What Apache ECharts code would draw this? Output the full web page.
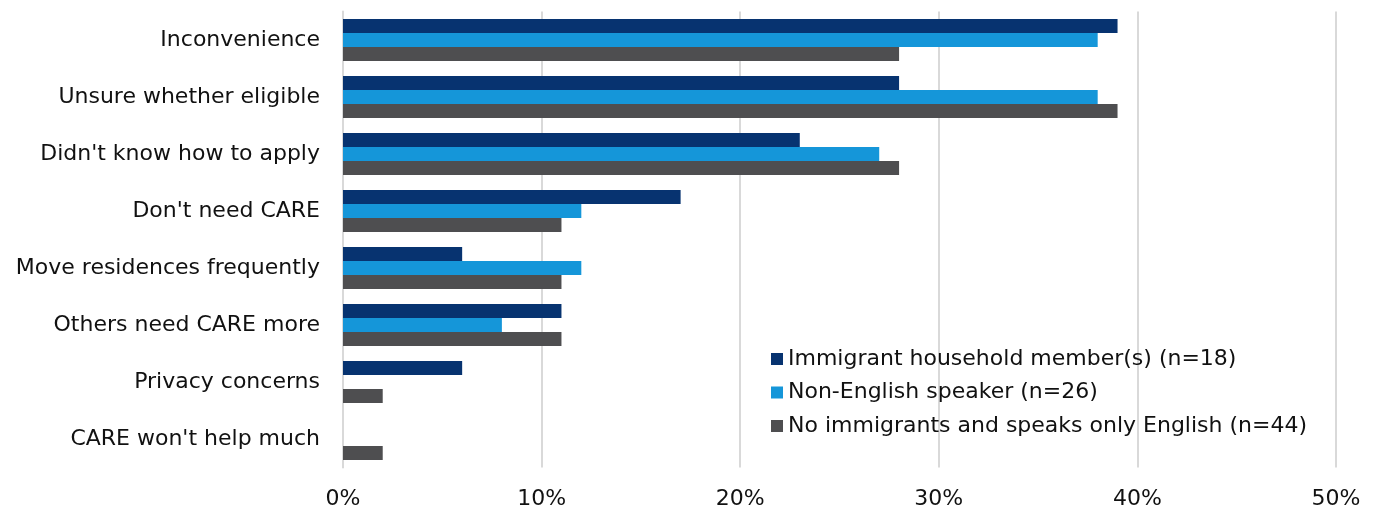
<!DOCTYPE html>
<html>
<head>
<meta charset="utf-8">
<script src="https://cdn.jsdelivr.net/npm/echarts@6/dist/echarts.min.js"></script>
<style>
  html, body { margin: 0; padding: 0; background: #fff; }
  #chart { width: 1378px; height: 512px; }
</style>
</head>
<body>
<div id="chart"></div>
<script>
// Reasons for not enrolling in CARE, by household group (percent)
const categories = [
  'Inconvenience',
  'Unsure whether eligible',
  "Didn't know how to apply",
  "Don't need CARE",
  'Move residences frequently',
  'Others need CARE more',
  'Privacy concerns',
  "CARE won't help much"
];
const immigrantHousehold = [39, 28, 23, 17, 6, 11, 6, 0];
const nonEnglishSpeaker  = [38, 38, 27, 12, 12, 8, 0, 0];
const englishOnly        = [28, 39, 28, 11, 11, 11, 2, 2];
const seriesNames = [
  'Immigrant household member(s) (n=18)',
  'Non-English speaker (n=26)',
  'No immigrants and speaks only English (n=44)'
];
const xTicks = [0, 10, 20, 30, 40, 50];

const FONT = 'DejaVu Sans';
const colors = ['#073370', '#1596d9', '#4e4e50'];

const chart = echarts.init(document.getElementById('chart'), null, { renderer: 'canvas' });

chart.setOption({
  animation: false,
  textStyle: { fontFamily: FONT },
  grid: { left: 343, right: 42, top: 11.5, bottom: 44.5, containLabel: false },
  legend: {
    orient: 'vertical',
    left: 766,
    top: 343,
    itemWidth: 12,
    itemHeight: 12,
    itemGap: 11.5,
    icon: 'rect',
    textStyle: { fontFamily: FONT, fontSize: 22, color: '#111' },
    data: seriesNames
  },
  xAxis: {
    type: 'value',
    min: xTicks[0],
    max: xTicks[xTicks.length - 1],
    interval: 10,
    axisLine: { show: false },
    axisTick: { show: false },
    splitLine: { lineStyle: { color: '#d9d9d9', width: 2 } },
    axisLabel: {
      fontFamily: FONT, fontSize: 22, color: '#111', margin: 21,
      formatter: v => v + '%'
    }
  },
  yAxis: {
    type: 'category',
    data: categories,
    inverse: true,
    axisLine: { show: true, lineStyle: { color: '#d9d9d9', width: 2 } },
    axisTick: { show: false },
    axisLabel: {
      fontFamily: FONT, fontSize: 22, color: '#111', margin: 23,
      padding: [7, 0, 0, 0]
    }
  },
  series: [immigrantHousehold, nonEnglishSpeaker, englishOnly].map((d, i) => ({
    name: seriesNames[i],
    type: 'bar',
    data: d,
    barWidth: 14,
    barGap: '0%',
    itemStyle: { color: colors[i] }
  }))
});
</script>
</body>
</html>
